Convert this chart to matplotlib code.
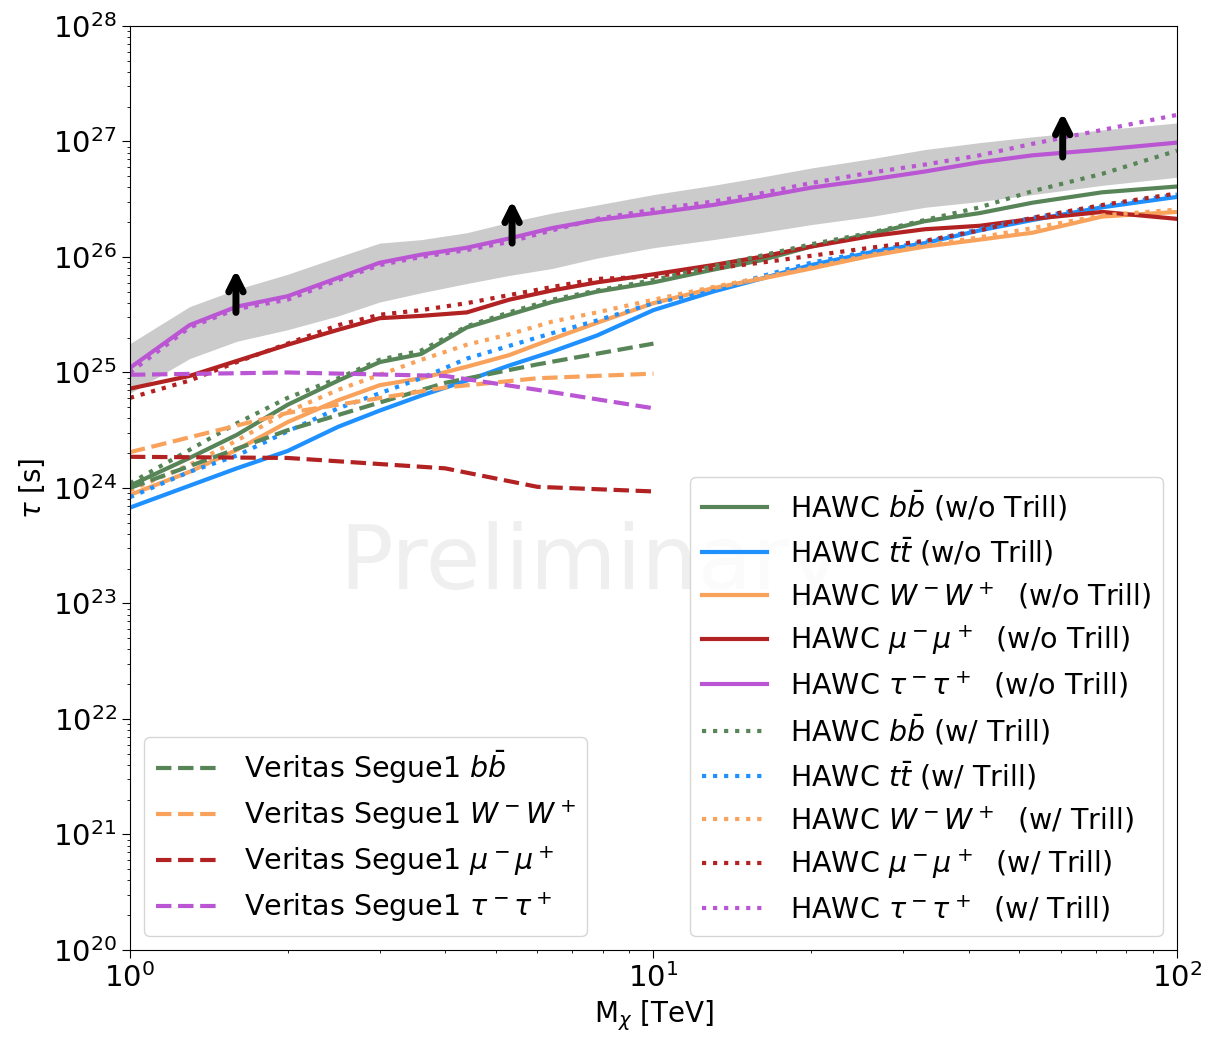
import numpy as np
import matplotlib
matplotlib.use('Agg')
import matplotlib.pyplot as plt

# HAWC mass grid [TeV]
mass = [1.0, 1.3, 1.6, 2.0, 2.5, 3.0, 3.6, 4.4, 5.3, 6.4, 7.8,
        10, 13, 16, 20, 26, 33, 42, 53, 72, 100]

# log10(tau / s), HAWC without Triangulum II
bb_woT = [24.02, 24.26, 24.46, 24.72, 24.93, 25.09, 25.16, 25.39, 25.50, 25.61, 25.70,
          25.78, 25.89, 25.97, 26.09, 26.20, 26.31, 26.38, 26.47, 26.56, 26.61]
tt_woT = [23.83, 24.02, 24.17, 24.32, 24.53, 24.67, 24.80, 24.93, 25.06, 25.18, 25.32,
          25.54, 25.70, 25.81, 25.93, 26.04, 26.12, 26.23, 26.32, 26.43, 26.52]
ww_woT = [23.94, 24.14, 24.33, 24.57, 24.76, 24.89, 24.95, 25.05, 25.15, 25.29, 25.43,
          25.60, 25.73, 25.81, 25.90, 26.01, 26.09, 26.15, 26.21, 26.35, 26.39]
mu_woT = [24.86, 24.97, 25.10, 25.24, 25.37, 25.47, 25.49, 25.52, 25.63, 25.71, 25.78,
          25.85, 25.93, 26.00, 26.09, 26.18, 26.24, 26.27, 26.33, 26.39, 26.33]
tau_woT = [25.04, 25.41, 25.57, 25.66, 25.82, 25.95, 26.02, 26.08, 26.16, 26.25, 26.32,
           26.38, 26.45, 26.52, 26.60, 26.67, 26.74, 26.82, 26.88, 26.93, 26.99]

# HAWC with Triangulum II
bb_wT = [24.04, 24.33, 24.56, 24.78, 24.95, 25.11, 25.19, 25.40, 25.52, 25.63, 25.71,
         25.80, 25.92, 26.01, 26.11, 26.21, 26.32, 26.43, 26.57, 26.72, 26.92]
tt_wT = [23.92, 24.14, 24.28, 24.49, 24.69, 24.82, 24.95, 25.12, 25.23, 25.34, 25.45,
         25.60, 25.71, 25.83, 25.95, 26.05, 26.13, 26.24, 26.34, 26.44, 26.54]
ww_wT = [23.98, 24.20, 24.41, 24.66, 24.85, 24.98, 25.11, 25.24, 25.33, 25.44, 25.52,
         25.63, 25.74, 25.82, 25.91, 26.02, 26.10, 26.17, 26.25, 26.36, 26.41]
mu_wT = [24.78, 24.93, 25.09, 25.25, 25.41, 25.50, 25.54, 25.60, 25.67, 25.74, 25.81,
         25.83, 25.90, 25.95, 26.01, 26.08, 26.14, 26.23, 26.34, 26.45, 26.55]
tau_wT = [25.00, 25.39, 25.55, 25.63, 25.80, 25.93, 26.00, 26.06, 26.13, 26.23, 26.33,
          26.41, 26.48, 26.55, 26.64, 26.73, 26.80, 26.88, 26.98, 27.10, 27.23]

# gray band
band_lo = [24.82, 25.12, 25.27, 25.37, 25.49, 25.61, 25.69, 25.77, 25.84, 25.90, 25.99,
           26.08, 26.15, 26.21, 26.28, 26.35, 26.43, 26.48, 26.54, 26.62, 26.69]
band_hi = [25.25, 25.57, 25.72, 25.85, 26.00, 26.12, 26.15, 26.21, 26.30, 26.38, 26.45,
           26.54, 26.62, 26.69, 26.77, 26.85, 26.93, 26.99, 27.04, 27.10, 27.16]

# Veritas Segue 1
mass_ver = [1, 2, 4, 6, 10]
ver_bb = [24.00, 24.50, 24.91, 25.07, 25.25]
ver_ww = [24.31, 24.65, 24.87, 24.95, 24.99]
ver_mu = [24.27, 24.26, 24.17, 24.01, 23.97]
ver_tau = [24.98, 25.00, 24.97, 24.85, 24.69]

# lower-limit arrows (mass, log10 tail, log10 tip)
arrow_m = [1.594, 5.37, 60.5]
arrow_lo = [25.52, 26.12, 26.865]
arrow_hi = [25.89, 26.49, 27.25]

c_bb, c_tt, c_ww, c_mu, c_tau = '#588558', '#1e90ff', '#f9a25c', '#b22222', '#ba55d3'
FS = 20.5

fig = plt.figure(figsize=(12.19, 10.51), dpi=100)
ax = fig.add_axes([0.1066, 0.0961, 0.8589, 0.8792])

p = lambda v: 10**np.array(v)

ax.fill_between(mass, p(band_lo), p(band_hi), color='#cbcbcb', lw=0)

lw = 3
h_sol = []
for vals, c, lab in [(bb_woT, c_bb, r'HAWC $b\bar{b}$ (w/o Trill)'),
                     (tt_woT, c_tt, r'HAWC $t\bar{t}$ (w/o Trill)'),
                     (ww_woT, c_ww, r'HAWC $W^-W^+$  (w/o Trill)'),
                     (mu_woT, c_mu, r'HAWC $\mu^-\mu^+$  (w/o Trill)'),
                     (tau_woT, c_tau, r'HAWC $\tau^-\tau^+$  (w/o Trill)')]:
    h_sol += ax.plot(mass, p(vals), color=c, lw=lw, label=lab)
h_dot = []
for vals, c, lab in [(bb_wT, c_bb, r'HAWC $b\bar{b}$ (w/ Trill)'),
                     (tt_wT, c_tt, r'HAWC $t\bar{t}$ (w/ Trill)'),
                     (ww_wT, c_ww, r'HAWC $W^-W^+$  (w/ Trill)'),
                     (mu_wT, c_mu, r'HAWC $\mu^-\mu^+$  (w/ Trill)'),
                     (tau_wT, c_tau, r'HAWC $\tau^-\tau^+$  (w/ Trill)')]:
    h_dot += ax.plot(mass, p(vals), color=c, lw=lw, ls=':', label=lab)
h_ver = []
for vals, c, lab in [(ver_bb, c_bb, r'Veritas Segue1 $b\bar{b}$'),
                     (ver_ww, c_ww, r'Veritas Segue1 $W^-W^+$'),
                     (ver_mu, c_mu, r'Veritas Segue1 $\mu^-\mu^+$'),
                     (ver_tau, c_tau, r'Veritas Segue1 $\tau^-\tau^+$')]:
    h_ver += ax.plot(mass_ver, p(vals), color=c, lw=lw, ls='--', label=lab)

for m, lo, hi in zip(arrow_m, arrow_lo, arrow_hi):
    ax.annotate('', xy=(m, 10**hi), xytext=(m, 10**lo),
                arrowprops=dict(arrowstyle='->', lw=5, color='k',
                                mutation_scale=26, shrinkA=0, shrinkB=0))

ax.text(0.44, 0.417, 'Preliminary', transform=ax.transAxes, fontsize=64,
        color='#efefef', ha='center', va='center', zorder=0)

ax.set_xscale('log')
ax.set_yscale('log')
ax.set_xlim(1, 100)
ax.set_ylim(1e20, 1e28)
ax.yaxis.set_major_locator(matplotlib.ticker.LogLocator(base=10, numticks=20))
ax.yaxis.set_minor_locator(matplotlib.ticker.LogLocator(base=10, subs=np.arange(2, 10), numticks=20))
ax.tick_params(labelsize=21, which='major', length=6)
ax.set_xlabel(r'M$_\chi$ [TeV]', fontsize=20)
ax.set_ylabel(r'$\tau$ [s]', fontsize=20)

leg1 = ax.legend(handles=h_sol + h_dot, loc='lower right', fontsize=FS,
                 handlelength=2.3, labelspacing=0.43)
ax.add_artist(leg1)
ax.legend(handles=h_ver, loc='lower left', fontsize=FS,
          handlelength=2.3, labelspacing=0.43)

fig.savefig('out.png', dpi=100)
